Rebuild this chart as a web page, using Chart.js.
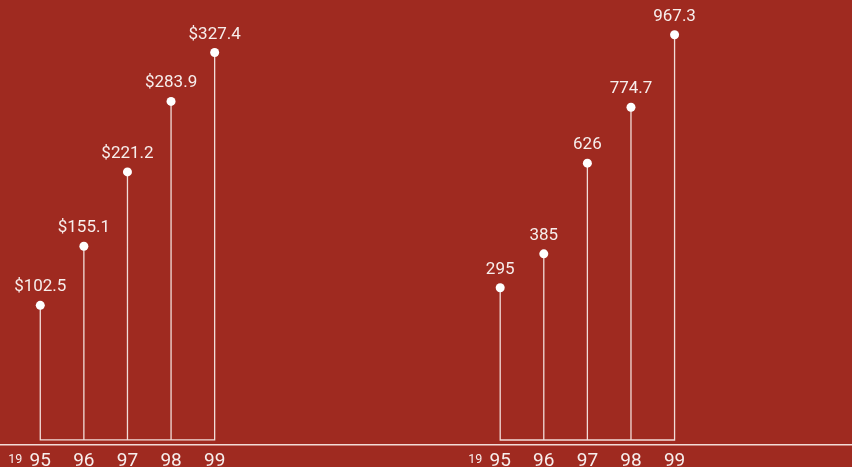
<!DOCTYPE html>
<html>
<head>
<meta charset="utf-8">
<script src="https://cdn.jsdelivr.net/npm/chart.js@4"></script>
<style>
    html, body { margin: 0; padding: 0; background: #9f2a20; }
    #wrap { width: 852px; height: 467px; }
</style>
</head>
<body>
<div id="wrap"><canvas id="chart"></canvas></div>
<script>
// data
var years = ['95', '96', '97', '98', '99'];
var centuryLabel = '19';
var leftValues = [102.5, 155.1, 221.2, 283.9, 327.4];
var rightValues = [295, 385, 626, 774.7, 967.3];
var leftText = leftValues.map(function (v) { return '$' + v.toFixed(1); });
var rightText = rightValues.map(function (v) { return String(v); });

// layout
var RIGHT_OFFSET = 10.55;           // x index where the right group starts
var LEFT_BASE = -17.2, RIGHT_BASE = -109.8;
var STEM = '#f2dcd8';
var FONT = 'Roboto';

// stems + connecting baseline as one zigzag path
function stemPath(vals, offset, base) {
    var pts = [];
    vals.forEach(function (v, i) {
        if (i > 0) pts.push({ x: offset + i, y: base });
        pts.push({ x: offset + i, y: v });
        if (i < vals.length - 1) pts.push({ x: offset + i, y: base });
    });
    return pts;
}

function dots(vals, offset) {
    return vals.map(function (v, i) { return { x: offset + i, y: v }; });
}

var valueLabels = {
    id: 'valueLabels',
    afterDatasetsDraw: function (chart) {
        var ctx = chart.ctx;
        ctx.save();
        ctx.fillStyle = '#f7eeec';
        ctx.font = '17px ' + FONT;
        ctx.textAlign = 'center';
        ctx.textBaseline = 'alphabetic';
        chart.data.datasets.forEach(function (ds, di) {
            if (!ds.labels) return;
            chart.getDatasetMeta(di).data.forEach(function (pt, i) {
                ctx.fillText(ds.labels[i], pt.x, pt.y - 14);
            });
        });
        ctx.restore();
    }
};

var century = {
    id: 'century',
    afterDraw: function (chart) {
        var ctx = chart.ctx;
        var xs = chart.scales.x;
        ctx.save();
        ctx.fillStyle = '#f7eeec';
        ctx.font = '12.5px ' + FONT;
        ctx.textAlign = 'left';
        ctx.textBaseline = 'alphabetic';
        [0, RIGHT_OFFSET].forEach(function (off) {
            ctx.fillText(centuryLabel, xs.getPixelForValue(off) - 32, 463);
        });
        ctx.restore();
    }
};

var chart = new Chart(document.getElementById('chart'), {
    type: 'scatter',
    data: {
        datasets: [
            { data: dots(leftValues, 0), labels: leftText, yAxisID: 'yL',
              pointRadius: 4.5, pointHoverRadius: 4.5, backgroundColor: '#ffffff', borderWidth: 0, clip: false },
            { data: dots(rightValues, RIGHT_OFFSET), labels: rightText, yAxisID: 'yR',
              pointRadius: 4.5, pointHoverRadius: 4.5, backgroundColor: '#ffffff', borderWidth: 0, clip: false },
            { data: stemPath(leftValues, 0, LEFT_BASE), yAxisID: 'yL', showLine: true,
              borderColor: STEM, borderWidth: 1.3, pointRadius: 0, clip: false },
            { data: stemPath(rightValues, RIGHT_OFFSET, RIGHT_BASE), yAxisID: 'yR', showLine: true,
              borderColor: STEM, borderWidth: 1.3, pointRadius: 0, clip: false }
        ]
    },
    options: {
        responsive: true,
        maintainAspectRatio: false,
        animation: false,
        devicePixelRatio: 1,
        layout: { padding: 0, autoPadding: false },
        plugins: { legend: { display: false }, tooltip: { enabled: false } },
        scales: {
            x: {
                type: 'linear',
                min: -0.924,
                max: 18.62,
                grid: { display: false, drawTicks: false },
                border: { display: true, color: '#f3dcd8', width: 1.5 },
                afterBuildTicks: function (scale) {
                    var t = [];
                    years.forEach(function (y, i) { t.push({ value: i }); });
                    years.forEach(function (y, i) { t.push({ value: RIGHT_OFFSET + i }); });
                    scale.ticks = t;
                },
                afterFit: function (scale) { scale.height = 22; },
                ticks: {
                    autoSkip: false,
                    maxRotation: 0,
                    padding: 5,
                    color: '#f7eeec',
                    font: { family: FONT, size: 19 },
                    callback: function (v, i) { return years[i % years.length]; }
                }
            },
            yL: { display: false, min: -21.7, max: 374.1 },
            yR: { display: false, min: -123.1, max: 1059.8 }
        }
    },
    plugins: [valueLabels, century]
});
</script>
</body>
</html>
